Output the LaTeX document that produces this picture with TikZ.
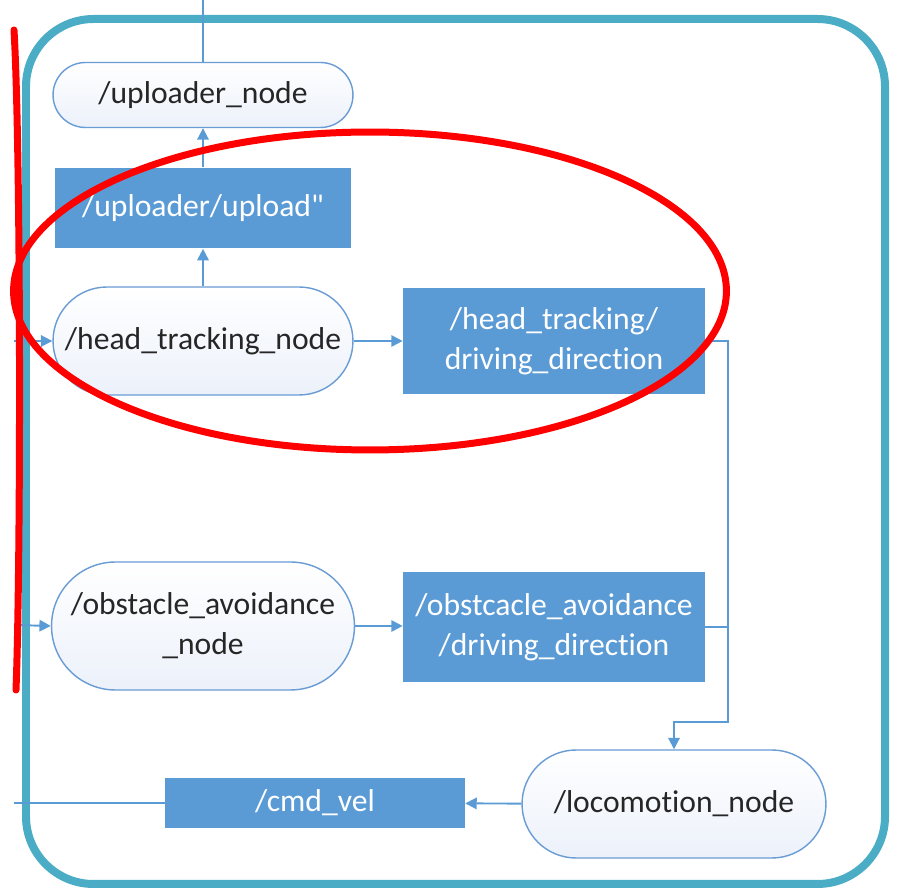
\documentclass[tikz,border=0pt]{standalone}
\usepackage{fontspec}
\setmainfont{Carlito}[Ligatures=NoCommon]
\usetikzlibrary{arrows.meta}
\definecolor{frameteal}{RGB}{75,172,198}
\definecolor{topicblue}{RGB}{91,155,213}
\definecolor{nodeline}{RGB}{105,155,212}
\definecolor{nodefill}{RGB}{236,241,250}
\begin{document}
\begin{tikzpicture}[x=0.02cm,y=-0.02cm,
  rosnode/.style={rectangle, draw=nodeline, line width=0.8pt, top color=white, bottom color=nodefill,
    minimum height=#1, rounded corners=#1/2, inner xsep=1pt, text=black!85, align=center,
    font=\fontsize{18}{22.7}\selectfont},
  topic/.style={rectangle, fill=topicblue, text=white, inner xsep=1pt, align=center,
    font=\fontsize{18}{22.7}\selectfont},
  link/.style={topicblue, line width=1.1pt},
  arrow/.style={link, -{Triangle[length=6.5pt,width=6.5pt]}}]
\useasboundingbox (0,0) rectangle (897,891);
%frame
\draw[frameteal, line width=0.16cm, rounded corners=1.35cm] (26,19) rectangle (885,884);
%nodes
\node[rosnode=1.3cm, minimum width=6cm] (uploader) at (203,95) {/uploader\_node};
\node[topic, minimum width=5.94cm, minimum height=1.62cm] (upload) at (203,208) {/uploader/upload\textquotedbl};
\node[rosnode=2.16cm, minimum width=6cm] (headtrack) at (203,341) {/head\_tracking\_node};
\node[topic, minimum width=6.04cm, minimum height=2.14cm] (headdir) at (554,341) {/head\_tracking/\\driving\_direction};
\node[rosnode=2.56cm, minimum width=6.06cm] (obstacle) at (203,626) {/obstacle\_avoidance\\\_node};
\node[topic, minimum width=6.04cm, minimum height=2.2cm] (obstdir) at (554,627) {/obstcacle\_avoidance\\/driving\_direction};
\node[rosnode=2.16cm, minimum width=6.08cm] (locomotion) at (674,804) {/locomotion\_node};
\node[topic, minimum width=6cm, minimum height=1cm] (cmdvel) at (315,803) {/cmd\_vel};
%free ends
\coordinate (topout) at (203,0);
\coordinate (headin) at (14,341);
\coordinate (obstin) at (14,625);
\coordinate (cmdout) at (14,803);
\coordinate (merge) at (728,722);
%connectors
\draw[link] (uploader.north) -- (topout);
\draw[arrow] (upload) -- (uploader);
\draw[arrow] (headtrack) -- (upload);
\draw[arrow] (headin) -- (headtrack);
\draw[arrow] (headtrack) -- (headdir);
\draw[arrow] (obstin) -- (obstacle.west);
\draw[arrow] (obstacle.east) -- (obstdir.west |- obstacle.east);
\draw[arrow] (headdir.east) -| (merge) -| (locomotion.north);
\draw[link] (obstdir.east) -- (obstdir.east -| merge);
\draw[arrow] (locomotion) -- (cmdvel);
\draw[link] (cmdvel.west) -- (cmdout);
%marking
\draw[red, line width=0.14cm] (370,291) ellipse [x radius=7.13cm, y radius=3.18cm];
\draw[red, line width=0.14cm, line cap=round] (14,30) .. controls (21,150) and (21,560) .. (16,690);
\end{tikzpicture}
\end{document}
